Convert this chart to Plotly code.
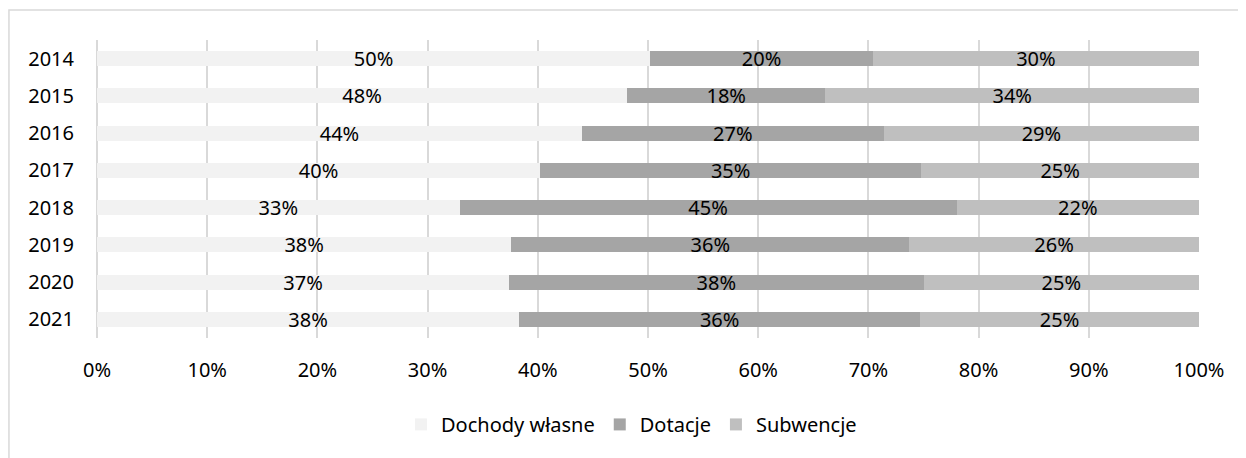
import plotly.graph_objects as go

years = ["2014", "2015", "2016", "2017", "2018", "2019", "2020", "2021"]
dochody_wlasne = [50.2, 48.1, 44.0, 40.2, 32.9, 37.6, 37.4, 38.3]
dotacje = [20.2, 18.0, 27.4, 34.6, 45.1, 36.1, 37.6, 36.4]
subwencje = [29.6, 33.9, 28.6, 25.2, 22.0, 26.3, 25.0, 25.3]
x_ticks = [0, 10, 20, 30, 40, 50, 60, 70, 80, 90, 100]
x_tick_labels = [f"{v}%" for v in x_ticks]

series = [
    ("Dochody własne", dochody_wlasne, "#F2F2F2"),
    ("Dotacje", dotacje, "#A5A5A5"),
    ("Subwencje", subwencje, "#BFBFBF"),
]

FONT = "Noto Sans"
FS = 20
fig = go.Figure()
for name, vals, col in series:
    fig.add_trace(go.Bar(
        y=years, x=vals, name=name, orientation="h",
        marker=dict(color=col, line=dict(width=0)),
        texttemplate="%{x:.0f}%", textposition="inside",
        insidetextanchor="middle",
        textfont=dict(family=FONT, size=FS, color="#000000"),
        hoverinfo="skip",
    ))

fig.update_layout(
    width=1238, height=450,
    barmode="stack", bargap=0.6,
    paper_bgcolor="white", plot_bgcolor="white",
    margin=dict(l=89, r=47, t=32, b=120),
    font=dict(family=FONT, size=FS, color="#000000"),
    uniformtext=dict(minsize=FS, mode="show"),
    legend=dict(orientation="h", x=0.485, xanchor="center", y=-0.29, yanchor="middle",
                font=dict(family=FONT, size=FS, color="#000000"), traceorder="normal"),
    xaxis=dict(range=[0, 100], tickvals=x_ticks, ticktext=x_tick_labels, showgrid=True,
               gridcolor="#D9D9D9", gridwidth=1.5, zeroline=True, zerolinecolor="#D9D9D9",
               zerolinewidth=1.5, showline=False, ticks="", ticklabelstandoff=18,
               tickfont=dict(family=FONT, size=FS)),
    yaxis=dict(autorange="reversed", showgrid=False, showline=False, ticks="",
               ticklabelstandoff=22, tickfont=dict(family=FONT, size=FS)),
    shapes=[dict(type="rect", xref="paper", yref="paper", x0=-0.0799, x1=1.2,
                 y0=1.1007, y1=-0.6, line=dict(color="#D9D9D9", width=1.5),
                 fillcolor="rgba(0,0,0,0)", layer="below")],
)

fig.write_html("out.html")
